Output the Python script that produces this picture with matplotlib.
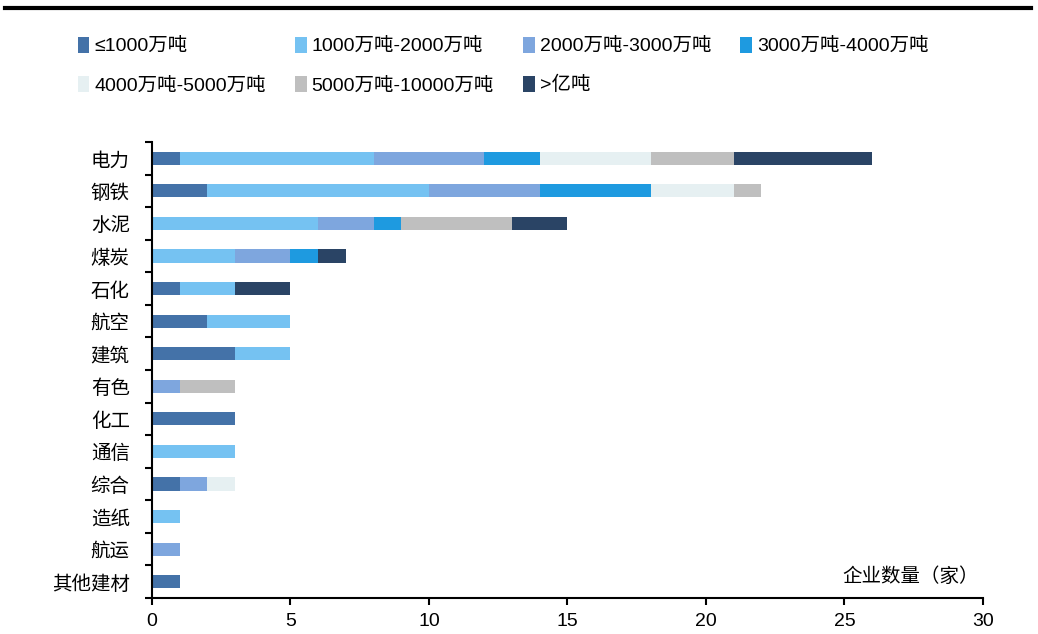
import matplotlib
matplotlib.use("Agg")
import matplotlib.pyplot as plt
from matplotlib.lines import Line2D
import numpy as np

plt.rcParams['font.family'] = ['Liberation Sans', 'Noto Sans CJK SC', 'DejaVu Sans']

industries = ["电力", "钢铁", "水泥", "煤炭", "石化", "航空", "建筑", "有色",
              "化工", "通信", "综合", "造纸", "航运", "其他建材"]
series_names = ["≤1000万吨", "1000万吨-2000万吨", "2000万吨-3000万吨", "3000万吨-4000万吨",
                "4000万吨-5000万吨", "5000万吨-10000万吨", ">亿吨"]
le_1000 = [1, 2, 0, 0, 1, 2, 3, 0, 3, 0, 1, 0, 0, 1]
r1000_2000 = [7, 8, 6, 3, 2, 3, 2, 0, 0, 3, 0, 1, 0, 0]
r2000_3000 = [4, 4, 2, 2, 0, 0, 0, 1, 0, 0, 1, 0, 1, 0]
r3000_4000 = [2, 4, 1, 1, 0, 0, 0, 0, 0, 0, 0, 0, 0, 0]
r4000_5000 = [4, 3, 0, 0, 0, 0, 0, 0, 0, 0, 1, 0, 0, 0]
r5000_10000 = [3, 1, 4, 0, 0, 0, 0, 2, 0, 0, 0, 0, 0, 0]
over_1e8 = [5, 0, 2, 1, 2, 0, 0, 0, 0, 0, 0, 0, 0, 0]
series = [le_1000, r1000_2000, r2000_3000, r3000_4000, r4000_5000, r5000_10000, over_1e8]
colors = ["#4472A8", "#75C2F2", "#7EA6DE", "#1E9AE0", "#E6F0F2", "#BFBFBF", "#2A4465"]

fig = plt.figure(figsize=(10.38, 6.34), dpi=100)
ax = fig.add_axes([0.1464, 0.0568, 0.8006, 0.7192])

y = np.arange(len(industries))
left = np.zeros(len(industries))
handles = []
for vals, c, name in zip(series, colors, series_names):
    v = np.array(vals, dtype=float)
    b = ax.barh(y, v, left=left, height=0.4, color=c, label=name)
    handles.append(b)
    left += v

ax.set_ylim(len(industries) - 0.5, -0.5)
ax.set_xlim(0, 30)
ax.set_xticks([0, 5, 10, 15, 20, 25, 30])
ax.set_yticks(y)
ax.set_yticklabels(industries, fontsize=14, family=['Noto Sans CJK SC'])
ax.tick_params(axis='y', length=0, pad=16)
ax.set_yticks(np.arange(-0.5, len(industries) + 0.5, 1), minor=True)
ax.tick_params(axis='y', which='minor', length=5, width=1.5)
ax.tick_params(axis='x', length=5, width=1.5, labelsize=14, pad=6)
for s in ["top", "right"]:
    ax.spines[s].set_visible(False)
for s in ["left", "bottom"]:
    ax.spines[s].set_linewidth(1.5)

ax.text(0.995, 0.025, "企业数量（家）", transform=ax.transAxes, ha='right', va='bottom',
        fontsize=14, family=['Noto Sans CJK SC'])

# legend filled column-wise, so reorder to read row-wise
order = [0, 4, 1, 5, 2, 6, 3]
fig.legend(handles=[handles[i] for i in order], ncol=4, loc='upper left',
           bbox_to_anchor=(0.058, 0.97),
           frameon=False, fontsize=14, handlelength=0.6, handleheight=0.9,
           handletextpad=0.25, columnspacing=1.5, labelspacing=1.05)

fig.add_artist(Line2D([0.005, 0.993], [0.988, 0.988], color='black', linewidth=3))

fig.savefig("out.png", dpi=100)
